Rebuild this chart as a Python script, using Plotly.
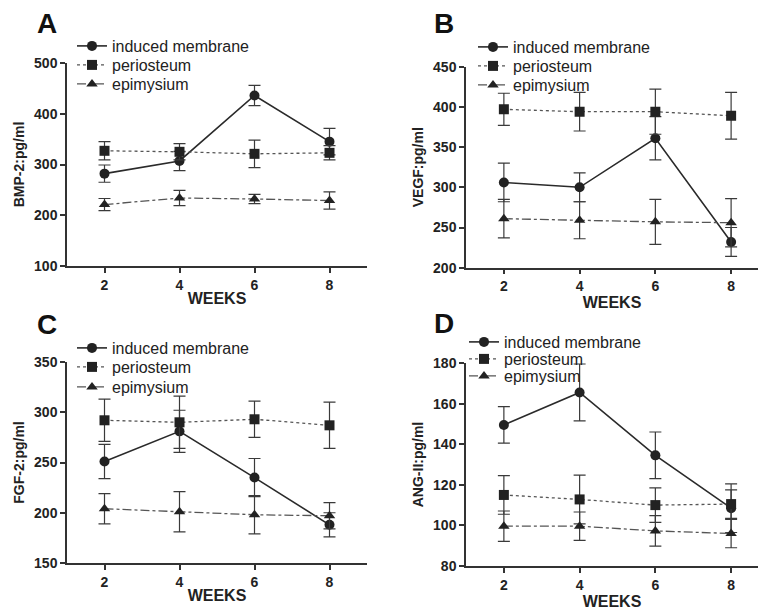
import plotly.graph_objects as go

weeks = [2, 4, 6, 8]
series_names = ["induced membrane", "periosteum", "epimysium"]

# Panel A: BMP-2
bmp_im = [282, 307, 436, 345]
bmp_im_err = [17, 19, 20, 26]
bmp_pe = [327, 325, 321, 323]
bmp_pe_err = [18, 16, 27, 14]
bmp_ep = [221, 234, 232, 229]
bmp_ep_err = [12, 15, 9, 17]

# Panel B: VEGF
vegf_im = [306, 300, 361, 232]
vegf_im_err = [24, 18, 27, 18]
vegf_pe = [397, 394, 394, 389]
vegf_pe_err = [20, 24, 28, 29]
vegf_ep = [261, 259, 257, 256]
vegf_ep_err = [24, 23, 28, 30]

# Panel C: FGF-2
fgf_im = [251, 281, 235, 188]
fgf_im_err = [17, 21, 19, 12]
fgf_pe = [292, 290, 293, 287]
fgf_pe_err = [21, 26, 18, 23]
fgf_ep = [204, 201, 198, 197]
fgf_ep_err = [15, 20, 19, 13]

# Panel D: ANG-II
ang_im = [149.5, 165.5, 134.5, 108.5]
ang_im_err = [9, 14, 11.5, 12]
ang_pe = [115, 112.8, 110, 110.5]
ang_pe_err = [9.5, 12, 8.5, 7]
ang_ep = [99.6, 99.6, 97.3, 96]
ang_ep_err = [7.5, 7, 7.5, 7]

W, H = 758, 611
FONT = "Liberation Sans, Arial, sans-serif"
INK = "#222222"

panels = [
    dict(letter="A", ytitle="BMP-2:pg/ml", yrange=[100, 500], dtick=100,
         xdom=[67, 367], ytop=63, ybot=266, xr=[1, 9],
         data=[(bmp_im, bmp_im_err), (bmp_pe, bmp_pe_err), (bmp_ep, bmp_ep_err)],
         legx=72, legrows=[47, 66, 85], lab=(47, 23)),
    dict(letter="B", ytitle="VEGF:pg/ml", yrange=[200, 450], dtick=50,
         xdom=[466, 758], ytop=66.7, ybot=267.7, xr=[1, 8.71],
         data=[(vegf_im, vegf_im_err), (vegf_pe, vegf_pe_err), (vegf_ep, vegf_ep_err)],
         legx=473, legrows=[48, 67, 86], lab=(444, 23)),
    dict(letter="C", ytitle="FGF-2:pg/ml", yrange=[150, 350], dtick=50,
         xdom=[67, 367], ytop=362, ybot=563, xr=[1, 9],
         data=[(fgf_im, fgf_im_err), (fgf_pe, fgf_pe_err), (fgf_ep, fgf_ep_err)],
         legx=72, legrows=[349, 368, 388], lab=(47, 324)),
    dict(letter="D", ytitle="ANG-II:pg/ml", yrange=[80, 180], dtick=20,
         xdom=[466, 758], ytop=363, ybot=566, xr=[1, 8.71],
         data=[(ang_im, ang_im_err), (ang_pe, ang_pe_err), (ang_ep, ang_ep_err)],
         legx=464, legrows=[343, 360, 377], lab=(444, 323)),
]

styles = [
    dict(symbol="circle", dash="solid", width=1.6, color="#2a2a2a"),
    dict(symbol="square", dash="dot", width=1.3, color="#555555"),
    dict(symbol="triangle-up", dash="dashdot", width=1.3, color="#555555"),
]

fig = go.Figure()
layout = {}
annotations = []
leg_index = 0

for i, p in enumerate(panels):
    n = i + 1
    xa = "x" if n == 1 else f"x{n}"
    ya = "y" if n == 1 else f"y{n}"
    for (vals, errs), name, st, row in zip(p["data"], series_names, styles, p["legrows"]):
        leg_index += 1
        legname = "legend" if leg_index == 1 else f"legend{leg_index}"
        fig.add_trace(go.Scatter(
            x=weeks, y=vals, name=name, mode="lines+markers", showlegend=True,
            xaxis=xa, yaxis=ya, legend=legname,
            line=dict(color=st["color"], width=st["width"], dash=st["dash"]),
            marker=dict(symbol=st["symbol"], size=10, color=INK),
            error_y=dict(type="data", array=errs, visible=True, color="#3a3a3a",
                         thickness=1.2, width=6),
        ))
        layout[legname] = dict(
            x=p["legx"] / W, y=1 - (row - 18) / H, xanchor="left", yanchor="top",
            bgcolor="rgba(0,0,0,0)", borderwidth=0,
            font=dict(family=FONT, size=16, color=INK),
            itemwidth=30,
        )
    xkey = "xaxis" if n == 1 else f"xaxis{n}"
    ykey = "yaxis" if n == 1 else f"yaxis{n}"
    layout[xkey] = dict(
        domain=[p["xdom"][0] / W, p["xdom"][1] / W], anchor=ya,
        range=p["xr"], tickvals=weeks, ticks="outside", ticklen=5, tickwidth=1.5,
        tickcolor="#333", showline=True, linecolor="#333", linewidth=1.5,
        showgrid=False, zeroline=False, automargin=False,
        tickfont=dict(family=FONT, size=14, color=INK, weight="bold"),
        title=dict(text="WEEKS", font=dict(family=FONT, size=16, color=INK, weight="bold"),
                   standoff=1),
    )
    layout[ykey] = dict(
        domain=[1 - p["ybot"] / H, 1 - p["ytop"] / H], anchor=xa,
        range=p["yrange"], dtick=p["dtick"], ticks="outside", ticklen=5, tickwidth=1.5,
        tickcolor="#333", showline=True, linecolor="#333", linewidth=1.5,
        showgrid=False, zeroline=False, automargin=False,
        tickfont=dict(family=FONT, size=14, color=INK, weight="bold"),
        title=dict(text=p["ytitle"], font=dict(family=FONT, size=14, color=INK, weight="bold"),
                   standoff=6),
    )
    annotations.append(dict(
        text=f"<b>{p['letter']}</b>", x=p["lab"][0] / W, y=1 - p["lab"][1] / H,
        xref="paper", yref="paper", xanchor="center", yanchor="middle",
        showarrow=False, font=dict(family=FONT, size=28, color="#111"),
    ))

fig.update_layout(
    width=W, height=H, margin=dict(l=0, r=0, t=0, b=0),
    paper_bgcolor="white", plot_bgcolor="white", showlegend=True,
    annotations=annotations, **layout,
)

fig.write_html("out.html", config={"displayModeBar": False},
               post_script="document.body.style.margin='0px';")
